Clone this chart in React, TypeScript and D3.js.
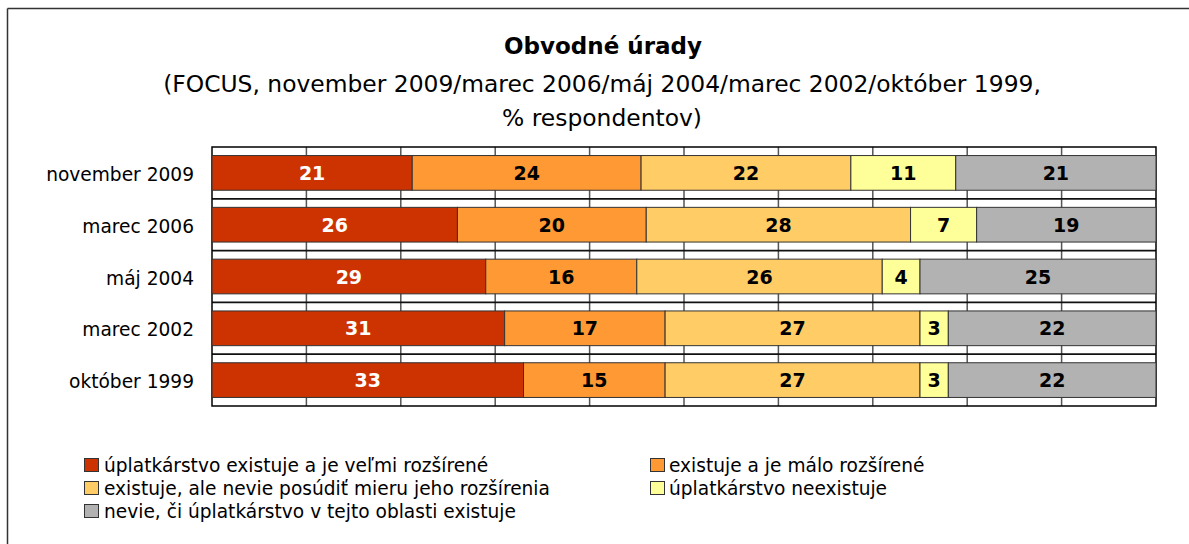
import React from "react";
import * as d3 from "d3";

const categories = ["november 2009", "marec 2006", "máj 2004", "marec 2002", "október 1999"];
const seriesNames = [
  "úplatkárstvo existuje a je veľmi rozšírené",
  "existuje a je málo rozšírené",
  "existuje, ale nevie posúdiť mieru jeho rozšírenia",
  "úplatkárstvo neexistuje",
  "nevie, či úplatkárstvo v tejto oblasti existuje",
];
const veľmiRozšírené = [21, 26, 29, 31, 33];
const máloRozšírené = [24, 20, 16, 17, 15];
const nevieMieru = [22, 28, 26, 27, 27];
const neexistuje = [11, 7, 4, 3, 3];
const nevie = [21, 19, 25, 22, 22];
const seriesValues = [veľmiRozšírené, máloRozšírené, nevieMieru, neexistuje, nevie];
const colors = ["#CC3300", "#FF9933", "#FFCC66", "#FFFF99", "#B2B2B2"];
const labelColors = ["#FFFFFF", "#000000", "#000000", "#000000", "#000000"];
const gridTicks = [0, 0.1, 0.2, 0.3, 0.4, 0.5, 0.6, 0.7, 0.8, 0.9, 1];

const W = 1189;
const H = 544;
const FONT = "'DejaVu Sans', Verdana, sans-serif";

export default function App() {
  const left = 212, right = 1156, top = 147, bottom = 406;
  const x = d3.scaleLinear().domain([0, 1]).range([left, right]);
  const y = d3.scaleBand<string>().domain(categories).range([top, bottom]).paddingInner(0.33).paddingOuter(0.165);
  const band = d3.scaleBand<string>().domain(categories).range([top, bottom]);

  const rows = categories.map((c, i) => {
    const vals = seriesValues.map((s) => s[i]);
    const total = d3.sum(vals);
    let acc = 0;
    return vals.map((v, k) => {
      const x0 = acc / total;
      acc += v;
      return { c, k, v, x0, x1: acc / total };
    });
  });

  const legendLeft = [0, 2, 4];
  const legendRight = [1, 3];
  const legendY = [465, 488, 511];

  return (
    <svg width={W} height={H} style={{ position: "absolute", left: 0, top: 0, background: "#fff" }} fontFamily={FONT}>
      <rect x={0} y={0} width={W} height={H} fill="#fff" />
      <line x1={7.5} y1={8.5} x2={W} y2={8.5} stroke="#333" strokeWidth={1.5} />
      <line x1={7.5} y1={8.5} x2={7.5} y2={H} stroke="#333" strokeWidth={1.5} />

      <text x={603} y={54} textAnchor="middle" fontWeight="bold" fontSize={23} fill="#000">Obvodné úrady</text>
      <text x={602} y={92} textAnchor="middle" fontSize={23.4} fill="#000">(FOCUS, november 2009/marec 2006/máj 2004/marec 2002/október 1999,</text>
      <text x={602} y={126} textAnchor="middle" fontSize={23.4} fill="#000">% respondentov)</text>

      {/* gridlines */}
      {gridTicks.slice(1, -1).map((t) => (
        <line key={t} x1={x(t)} x2={x(t)} y1={top} y2={bottom} stroke="#555" strokeWidth={1.5} />
      ))}
      {categories.slice(1).map((c) => (
        <line key={c} x1={left} x2={right} y1={band(c)!} y2={band(c)!} stroke="#111" strokeWidth={1.8} />
      ))}
      <rect x={left} y={top} width={right - left} height={bottom - top} fill="none" stroke="#000" strokeWidth={1.5} />

      {rows.map((segs) =>
        segs.map((s) => (
          <g key={s.c + s.k}>
            <rect x={x(s.x0)} y={y(s.c)!} width={x(s.x1) - x(s.x0)} height={y.bandwidth()} fill={colors[s.k]} stroke="#333" strokeWidth={1} />
            <text x={(x(s.x0) + x(s.x1)) / 2} y={y(s.c)! + y.bandwidth() / 2 + 7} textAnchor="middle" fontWeight="bold" fontSize={19} fill={labelColors[s.k]}>{s.v}</text>
          </g>
        ))
      )}

      {categories.map((c) => (
        <text key={c} x={194} y={y(c)! + y.bandwidth() / 2 + 8} textAnchor="end" fontSize={18.6} fill="#000">{c}</text>
      ))}

      {legendLeft.map((k, r) => (
        <g key={k}>
          <rect x={84.5} y={legendY[r] - 6.5} width={14} height={13} fill={colors[k]} stroke="#333" strokeWidth={1} />
          <text x={104} y={legendY[r] + 7} fontSize={18.6} fill="#000">{seriesNames[k]}</text>
        </g>
      ))}
      {legendRight.map((k, r) => (
        <g key={k}>
          <rect x={650.5} y={legendY[r] - 6.5} width={14} height={13} fill={colors[k]} stroke="#333" strokeWidth={1} />
          <text x={669} y={legendY[r] + 7} fontSize={18.6} fill="#000">{seriesNames[k]}</text>
        </g>
      ))}
    </svg>
  );
}
